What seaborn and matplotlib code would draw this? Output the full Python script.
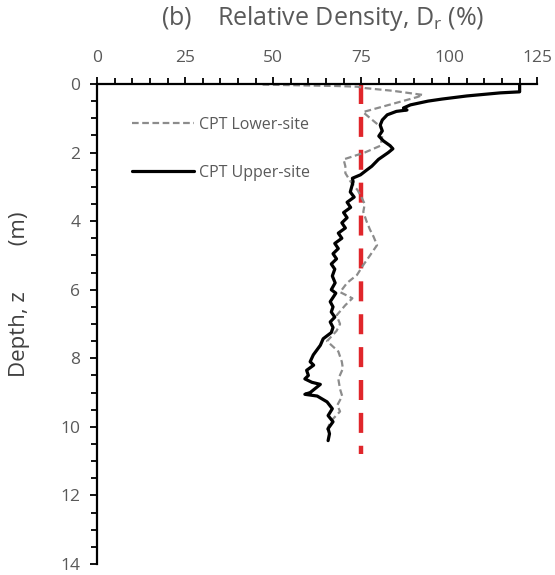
import matplotlib
matplotlib.use("Agg")
import matplotlib.pyplot as plt
import seaborn as sns
import pandas as pd
from matplotlib.ticker import MultipleLocator

# ---- data ----
upper_dr = [120, 120, 114.5, 105, 98, 94, 89, 87, 88, 85, 82.4, 81, 80.4, 81, 80, 81.3,
            83.2, 84, 82.7, 81.3, 79.9, 78, 76.7, 74.8, 72.5, 72.7, 71.9, 73, 71, 72, 70,
            71, 69.5, 70.5, 68.5, 69.5, 67.5, 68.5, 67, 68, 66.5, 67.5, 66.8, 67.6, 66.5,
            67.8, 66.2, 67, 66.5, 67.5, 66.2, 67, 66.5, 64.2, 63.4, 61.4, 60.5, 61.5, 59.5,
            60, 59, 61, 63.4, 60.5, 59, 62.5, 65.3, 66.8, 65.6, 67, 65.6, 66, 65.6]
upper_z = [0.0, 0.23, 0.26, 0.35, 0.44, 0.5, 0.61, 0.7, 0.76, 0.8, 0.9, 1.05, 1.2, 1.37,
           1.52, 1.66, 1.8, 1.89, 2.0, 2.1, 2.2, 2.4, 2.5, 2.65, 2.75, 2.85, 3.15, 3.3,
           3.45, 3.6, 3.75, 3.9, 4.05, 4.2, 4.35, 4.5, 4.65, 4.8, 4.95, 5.1, 5.25, 5.4,
           5.6, 5.8, 6.0, 6.1, 6.35, 6.5, 6.65, 6.8, 6.94, 7.1, 7.25, 7.43, 7.62, 7.9,
           8.1, 8.2, 8.35, 8.5, 8.6, 8.7, 8.76, 9.0, 9.05, 9.1, 9.27, 9.47, 9.67, 9.85,
           10.05, 10.2, 10.4]

lower_dr = [47, 58, 68, 74, 76, 84, 92.5, 91, 85, 75.5, 77, 80.5, 81, 80.5, 76, 70, 70.5,
            70.5, 72, 74, 75.3, 76, 75.6, 76.5, 77.5, 78.5, 79.5, 77.5, 75.6, 73.8, 71, 69,
            72.5, 70.5, 68, 69, 68, 65.3, 68.5, 69.5, 69.8, 68.5, 69, 69.6, 68.2, 69, 66.2,
            65.3]
lower_z = [0.02, 0.04, 0.06, 0.08, 0.12, 0.2, 0.32, 0.38, 0.55, 0.82, 0.95, 1.25, 1.5,
           1.8, 2.0, 2.2, 2.4, 2.6, 2.85, 3.1, 3.35, 3.5, 3.73, 4.0, 4.25, 4.45, 4.7, 5.0,
           5.28, 5.57, 5.8, 6.07, 6.25, 6.45, 6.75, 7.0, 7.2, 7.5, 7.8, 8.1, 8.3, 8.6, 8.9,
           9.1, 9.37, 9.55, 9.85, 10.1]

ref_dr = [75, 75]
ref_z = [0.0, 10.8]

x_ticks = [0, 25, 50, 75, 100, 125]
y_ticks = [0, 2, 4, 6, 8, 10, 12, 14]

# ---- plot ----
sns.set_theme(style="white")
plt.rcParams['font.family'] = ['Open Sans', 'DejaVu Sans']

fig = plt.figure(figsize=(5.55, 5.75), dpi=100)
ax = fig.add_axes([0.175, 0.019, 0.793, 0.835])

lower = pd.DataFrame({"Dr": lower_dr, "z": lower_z})
upper = pd.DataFrame({"Dr": upper_dr, "z": upper_z})
ref = pd.DataFrame({"Dr": ref_dr, "z": ref_z})

sns.lineplot(data=ref, x="Dr", y="z", sort=False, estimator=None, ax=ax,
             color="#e0262b", linewidth=3.2, dashes=False, zorder=1)
ax.lines[-1].set_dashes((4.5, 2.9))
sns.lineplot(data=lower, x="Dr", y="z", sort=False, estimator=None, ax=ax,
             color="#8c8c8c", linewidth=1.6, label="CPT Lower-site", zorder=2)
ax.lines[-1].set_dashes((3, 1.6))
sns.lineplot(data=upper, x="Dr", y="z", sort=False, estimator=None, ax=ax,
             color="black", linewidth=2.3, label="CPT Upper-site", zorder=3)

ax.set_xlim(0, 125)
ax.set_ylim(14, 0)
ax.xaxis.tick_top()
ax.xaxis.set_label_position("top")
ax.set_xticks(x_ticks)
ax.set_yticks(y_ticks)
ax.xaxis.set_minor_locator(MultipleLocator(5))
ax.yaxis.set_minor_locator(MultipleLocator(0.5))
ax.set_xlabel("")
ax.set_ylabel("")

for side in ["right", "bottom"]:
    ax.spines[side].set_visible(False)
for side in ["top", "left"]:
    ax.spines[side].set_color("black")
    ax.spines[side].set_linewidth(1.6)

ax.tick_params(which="both", direction="out", color="black", width=1.3,
               labelcolor="#595959", labelsize=12.5)
ax.tick_params(which="major", length=5)
ax.tick_params(which="minor", length=4)
ax.tick_params(axis="x", which="both", top=True, bottom=False, pad=8)
ax.tick_params(axis="y", which="both", left=True, right=False, pad=7)

leg = ax.legend(loc="upper left", bbox_to_anchor=(0.079, 0.931), frameon=False,
                fontsize=11.5, handlelength=3.9, handletextpad=0.3, labelspacing=2.0,
                borderpad=0, borderaxespad=0)
for t in leg.get_texts():
    t.set_color("#595959")

fig.text(0.582, 0.968, "(b)    Relative Density, D$_\\mathregular{r}$ (%)",
         ha="center", va="center", fontsize=18, color="#595959")
fig.text(0.036, 0.488, "Depth, z        (m)", rotation=90, ha="center", va="center",
         fontsize=16, color="#404040")

fig.savefig("out.png", dpi=100)
